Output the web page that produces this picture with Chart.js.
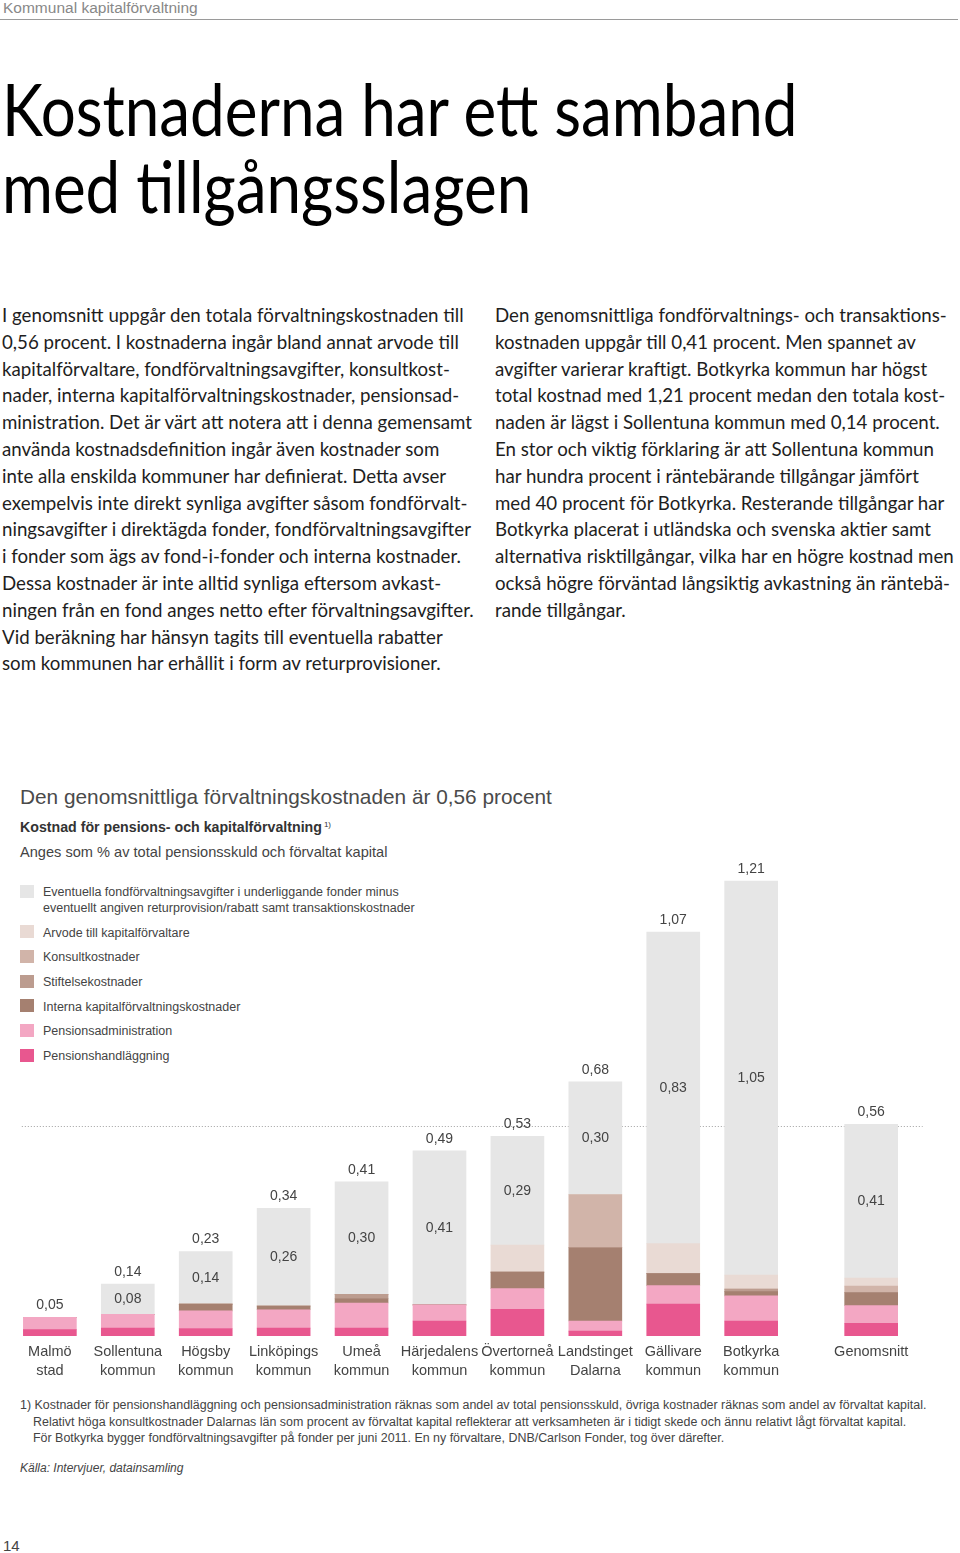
<!DOCTYPE html>
<html lang="sv">
<head>
<meta charset="utf-8">
<title>Kostnaderna har ett samband med tillgångsslagen</title>
<script src="https://cdn.jsdelivr.net/npm/chart.js@4.4.1/dist/chart.umd.min.js"></script>
<style>
  html, body { margin: 0; padding: 0; background: #fff; }
  #page { position: relative; width: 960px; height: 1553px; overflow: hidden; font-family: "Liberation Sans", Arial, sans-serif; color: #444; }
  .abs { position: absolute; white-space: nowrap; }
  #runhead { left: 3px; top: 0; font-size: 15.5px; line-height: 16px; color: #888; }
  #rule { left: 0; top: 19px; width: 958px; height: 1px; background: #9a9a9a; }
  #title { left: 2px; top: 70px; font-family: Lato, "Open Sans", sans-serif; font-size: 72px; line-height: 77px; color: #000; transform: scaleX(0.86); transform-origin: 0 0; }
  .col { font-family: Lato, "Open Sans", sans-serif; font-size: 18.7px; line-height: 26.8px; color: #1e1e1e; }
  #colL { left: 2px; top: 302px; }
  #colR { left: 495px; top: 302px; }
  #ctitle { left: 20px; top: 785px; font-size: 20.8px; line-height: 24px; color: #4a4a4a; }
  #csub { left: 20px; top: 816px; font-size: 14.2px; line-height: 18px; font-weight: bold; color: #333; }
  #csub sup { font-size: 8px; font-weight: normal; vertical-align: 5px; margin-left: 2px; }
  #cunit { left: 20px; top: 843px; font-size: 14.6px; line-height: 18px; color: #444; }
  #legend { left: 20px; top: 884px; font-size: 12.5px; line-height: 16px; color: #444; }
  #legend .item { position: relative; padding-left: 23px; margin-bottom: 8.7px; }
  #legend .sw { position: absolute; left: 0; top: 0.5px; width: 14px; height: 13px; }
  #chart { position: absolute; left: 0; top: 848px; }
  #notes { left: 20px; top: 1397px; font-size: 12.45px; line-height: 16.5px; color: #444; }
  #notes .ind { padding-left: 13px; }
  #source { left: 20px; top: 1460px; font-size: 12px; line-height: 16px; font-style: italic; color: #444; }
  #folio { left: 3px; top: 1537px; font-size: 15px; line-height: 18px; color: #444; }
</style>
</head>
<body>
<div id="page">
  <div id="runhead" class="abs">Kommunal kapitalförvaltning</div>
  <div id="rule" class="abs"></div>
  <div id="title" class="abs">Kostnaderna har ett samband<br>med tillgångsslagen</div>

  <div id="colL" class="abs col">
    <div>I genomsnitt uppgår den totala förvaltningskostnaden till</div>
    <div>0,56 procent. I kostnaderna ingår bland annat arvode till</div>
    <div>kapitalförvaltare, fondförvaltningsavgifter, konsultkost-</div>
    <div>nader, interna kapitalförvaltningskostnader, pensionsad-</div>
    <div>ministration. Det är värt att notera att i denna gemensamt</div>
    <div>använda kostnadsdefinition ingår även kostnader som</div>
    <div>inte alla enskilda kommuner har definierat. Detta avser</div>
    <div>exempelvis inte direkt synliga avgifter såsom fondförvalt-</div>
    <div>ningsavgifter i direktägda fonder, fondförvaltningsavgifter</div>
    <div>i fonder som ägs av fond-i-fonder och interna kostnader.</div>
    <div>Dessa kostnader är inte alltid synliga eftersom avkast-</div>
    <div>ningen från en fond anges netto efter förvaltningsavgifter.</div>
    <div>Vid beräkning har hänsyn tagits till eventuella rabatter</div>
    <div>som kommunen har erhållit i form av returprovisioner.</div>
  </div>

  <div id="colR" class="abs col">
    <div>Den genomsnittliga fondförvaltnings- och transaktions-</div>
    <div>kostnaden uppgår till 0,41 procent. Men spannet av</div>
    <div>avgifter varierar kraftigt. Botkyrka kommun har högst</div>
    <div>total kostnad med 1,21 procent medan den totala kost-</div>
    <div>naden är lägst i Sollentuna kommun med 0,14 procent.</div>
    <div>En stor och viktig förklaring är att Sollentuna kommun</div>
    <div>har hundra procent i räntebärande tillgångar jämfört</div>
    <div>med 40 procent för Botkyrka. Resterande tillgångar har</div>
    <div>Botkyrka placerat i utländska och svenska aktier samt</div>
    <div>alternativa risktillgångar, vilka har en högre kostnad men</div>
    <div>också högre förväntad långsiktig avkastning än räntebä-</div>
    <div>rande tillgångar.</div>
  </div>

  <div id="ctitle" class="abs">Den genomsnittliga förvaltningskostnaden är 0,56 procent</div>
  <div id="csub" class="abs">Kostnad för pensions- och kapitalförvaltning<sup>1)</sup></div>
  <div id="cunit" class="abs">Anges som % av total pensionsskuld och förvaltat kapital</div>
  <div id="legend" class="abs"></div>

  <canvas id="chart" width="960" height="542"></canvas>

  <div id="notes" class="abs">
    <div>1) Kostnader för pensionshandläggning och pensionsadministration räknas som andel av total pensionsskuld, övriga kostnader räknas som andel av förvaltat kapital.</div>
    <div class="ind">Relativt höga konsultkostnader Dalarnas län som procent av förvaltat kapital reflekterar att verksamheten är i tidigt skede och ännu relativt lågt förvaltat kapital.</div>
    <div class="ind">För Botkyrka bygger fondförvaltningsavgifter på fonder per juni 2011. En ny förvaltare, DNB/Carlson Fonder, tog över därefter.</div>
  </div>
  <div id="source" class="abs">Källa: Intervjuer, datainsamling</div>
  <div id="folio" class="abs">14</div>
</div>

<script>
// kategorier och placering på x-axeln (Genomsnitt står lite avskilt)
const categories = [
  ["Malmö", "stad"], ["Sollentuna", "kommun"], ["Högsby", "kommun"], ["Linköpings", "kommun"],
  ["Umeå", "kommun"], ["Härjedalens", "kommun"], ["Övertorneå", "kommun"], ["Landstinget", "Dalarna"],
  ["Gällivare", "kommun"], ["Botkyrka", "kommun"], ["Genomsnitt"]
];
const slots = [0, 1, 2, 3, 4, 5, 6, 7, 8, 9, 10.54];

// kostnader i %, nerifrån och upp
const handlaggning   = [0.017, 0.021, 0.020, 0.021, 0.021, 0.040, 0.071, 0.013, 0.085, 0.040, 0.034];
const administration = [0.033, 0.037, 0.047, 0.049, 0.067, 0.043, 0.055, 0.027, 0.049, 0.067, 0.047];
const interna        = [0, 0, 0.018, 0.010, 0.012, 0, 0.044, 0.195, 0.032, 0.011, 0.035];
const stiftelse      = [0, 0, 0, 0, 0.011, 0, 0, 0, 0, 0.007, 0];
const konsult        = [0, 0, 0, 0, 0, 0, 0, 0.142, 0, 0, 0.017];
const arvode         = [0, 0, 0, 0, 0, 0, 0.072, 0, 0.080, 0.037, 0.021];
const fondavgifter   = [0, 0.08, 0.14, 0.26, 0.30, 0.41, 0.29, 0.30, 0.83, 1.05, 0.41];
const totals         = [0.05, 0.14, 0.23, 0.34, 0.41, 0.49, 0.53, 0.68, 1.07, 1.21, 0.56];
const average = 0.56;

const SERIES = [
  { label: "Pensionshandläggning", color: "#e8578f", data: handlaggning },
  { label: "Pensionsadministration", color: "#f3a7c3", data: administration },
  { label: "Interna kapitalförvaltningskostnader", color: "#a58070", data: interna },
  { label: "Stiftelsekostnader", color: "#bc9c8f", data: stiftelse },
  { label: "Konsultkostnader", color: "#d1b4a9", data: konsult },
  { label: "Arvode till kapitalförvaltare", color: "#e9dad4", data: arvode },
  { label: "Eventuella fondförvaltningsavgifter i underliggande fonder minus<br>eventuellt angiven returprovision/rabatt samt transaktionskostnader", color: "#e6e6e6", data: fondavgifter }
];

const fmt = v => v.toFixed(2).replace(".", ",");

// legend, översta serien först
const legendEl = document.getElementById("legend");
SERIES.slice().reverse().forEach(s => {
  const item = document.createElement("div");
  item.className = "item";
  item.innerHTML = `<span class="sw" style="background:${s.color}"></span>${s.label}`;
  legendEl.appendChild(item);
});

// streckad linje för genomsnittet
const averageLine = {
  id: "averageLine",
  beforeDatasetsDraw(chart) {
    const { ctx, scales: { x, y } } = chart;
    const py = Math.round(y.getPixelForValue(average)) + 0.5;
    ctx.save();
    ctx.strokeStyle = "#a0a0a0";
    ctx.lineWidth = 1;
    ctx.setLineDash([1, 2]);
    ctx.beginPath();
    ctx.moveTo(x.getPixelForValue(slots[0] - 0.36), py);
    ctx.lineTo(x.getPixelForValue(slots[slots.length - 1] + 0.66), py);
    ctx.stroke();
    ctx.restore();
  }
};

// summor ovanför staplarna och fondavgifter inne i den grå delen
const valueLabels = {
  id: "valueLabels",
  afterDatasetsDraw(chart) {
    const { ctx } = chart;
    const topBars = chart.getDatasetMeta(chart.data.datasets.length - 1).data;
    ctx.save();
    ctx.font = '14px "Liberation Sans", Arial, sans-serif';
    ctx.fillStyle = "#444";
    ctx.textAlign = "center";
    ctx.textBaseline = "middle";
    topBars.forEach((bar, i) => {
      ctx.fillText(fmt(totals[i]), bar.x, bar.y - 12);
      if (fondavgifter[i] > 0) ctx.fillText(fmt(fondavgifter[i]), bar.x, (bar.y + bar.base) / 2);
    });
    ctx.restore();
  }
};

Chart.defaults.font.family = '"Liberation Sans", Arial, sans-serif';
Chart.defaults.color = "#444";

new Chart(document.getElementById("chart"), {
  type: "bar",
  data: {
    datasets: SERIES.map(s => ({
      label: s.label,
      data: slots.map((x, i) => ({ x, y: s.data[i] })),
      backgroundColor: s.color,
      borderWidth: 0,
      barThickness: 53
    }))
  },
  options: {
    responsive: false,
    animation: false,
    devicePixelRatio: 1,
    layout: { padding: 0 },
    plugins: { legend: { display: false }, tooltip: { enabled: false } },
    scales: {
      x: {
        type: "linear",
        min: -0.64,
        max: 11.68,
        offset: false,
        stacked: true,
        grid: { display: false, drawTicks: false, offset: false },
        border: { display: false },
        afterBuildTicks: axis => { axis.ticks = slots.map(v => ({ value: v })); },
        afterFit: axis => { axis.height = 54; },
        ticks: {
          autoSkip: false,
          maxRotation: 0,
          minRotation: 0,
          padding: 7,
          color: "#444",
          font: { size: 14.5, lineHeight: 1.31 },
          callback: (v, i) => categories[i]
        }
      },
      y: { display: false, stacked: true, min: 0, max: 1.3 }
    }
  },
  plugins: [averageLine, valueLabels]
});
</script>
</body>
</html>
